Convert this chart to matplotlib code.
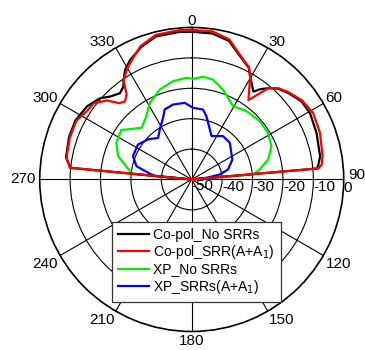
import numpy as np
import matplotlib.pyplot as plt

plt.rcParams['font.family'] = ['Liberation Sans', 'DejaVu Sans']

# angles in degrees (0 = broadside, negative = left side), gain in dB
ang_co_no = [-90, -84.5, -80, -71, -63, -55, -48.5, -44.6, -39.8, -36.4, -34.5, -31.3, -27.3,
             -21, -14, -5, 0, 8, 15, 24, 27, 29.6, 35.1, 37.1, 40, 43.5, 48, 54.5, 60.8,
             69.7, 79.9, 83.5, 85, 90]
co_no = [-50, -9.9, -8.0, -7.3, -7.1, -8.0, -9.7, -11.7, -13.1, -12.1, -10.4, -7.8, -5.8,
         -3.4, -1.5, -1.3, -1.4, -1.5, -2.8, -7.6, -8.7, -11.1, -14.7, -12.8, -10.8, -8.8, -7.4,
         -5.7, -5.4, -6.2, -7.1, -8.1, -8.6, -50]

ang_co_srr = [-90, -84.5, -80, -71, -63, -57, -52, -47, -43.5, -40.5, -37.5, -34.5, -30, -26.5,
              -21, -14, -5, 0, 8, 15, 24, 27, 29.6, 35.5, 40, 43.5, 48, 54.5, 61.4, 70, 80,
              83.6, 85, 90]
co_srr = [-50, -9.7, -8.2, -7.6, -7.4, -8.8, -9.2, -11.9, -15.4, -16.2, -14.8, -10.4, -7.7, -6.0,
          -3.0, -1.0, -0.7, -0.8, -0.8, -2.3, -7.4, -8.5, -11.1, -17.9, -10.8, -8.6, -7.1, -5.3,
          -4.5, -5.1, -6.3, -7.0, -8.2, -50]

ang_xp_no = [-90, -84.5, -83.7, -72.4, -64, -54.9, -44.2, -36.7, -28.7, -19.6, -10.8, -3, 0.8,
             6.3, 12, 19.2, 29.4, 38.7, 49.4, 58.5, 67.3, 75.3, 81.6, 85.3, 90]
xp_no = [-50, -30.2, -30.0, -24.6, -22.4, -21.7, -26.3, -24.7, -21.3, -18.6, -17.1, -16.5, -16.9,
         -16.0, -16.4, -18.7, -22.3, -21.2, -20.5, -20.6, -21.6, -24.0, -27.4, -29.8, -50]

ang_xp_srr = [-90, -84.5, -82.9, -76.5, -68.3, -56.9, -47.5, -39, -32.6, -24.9, -21.1, -14, -5.2,
              1, 9.2, 13, 24.5, 35.9, 46, 63.8, 74.6, 80, 83.5, 90]
xp_srr = [-50, -38.0, -36.6, -31.3, -29.2, -28.9, -30.5, -32.4, -30.5, -27.6, -25.3, -24.6, -24.7,
          -26.4, -26.7, -28.6, -34.3, -32.4, -32.6, -35.1, -37.6, -40.7, -45.1, -50]

theta_labels = ['0', '30', '60', '90', '120', '150', '180', '210', '240', '270', '300', '330']
r_ticks = [-50, -40, -30, -20, -10, 0]

fig = plt.figure(figsize=(3.65, 3.5), dpi=100)
ax = fig.add_axes([0.1088, 0.0529, 0.833, 0.8686], projection='polar')
ax.set_theta_zero_location('N')
ax.set_theta_direction(-1)

ax.plot(np.deg2rad(ang_xp_no), xp_no, color='#00ee00', lw=1.6, zorder=3, label='XP_No SRRs')
ax.plot(np.deg2rad(ang_xp_srr), xp_srr, color='#0000ff', lw=1.6, zorder=3, label='XP_SRRs(A+A$_1$)')
ax.plot(np.deg2rad(ang_co_no), co_no, color='black', lw=1.6, zorder=4, label='Co-pol_No SRRs')
ax.plot(np.deg2rad(ang_co_srr), co_srr, color='#ff0000', lw=1.6, zorder=5, label='Co-pol_SRR(A+A$_1$)')

ax.set_rlim(-50, 0)
ax.set_rticks(r_ticks[1:-1])
ax.set_yticklabels([])
ax.set_xticks(np.deg2rad(np.arange(0, 360, 30)))
ax.set_xticklabels([])
ax.set_xticks(np.deg2rad(np.arange(15, 360, 30)), minor=True)
ax.tick_params(axis='x', which='major', length=0)
ax.tick_params(axis='x', which='minor', length=4, width=0.8, direction='in', color='black')
ax.grid(True, color='black', lw=0.8)
ax.spines['polar'].set_linewidth(1.2)

# angle labels just outside the rim
aligns = [('center', 'baseline'), ('left', 'baseline'), ('left', 'baseline'), ('left', 'center'),
          ('left', 'top'), ('left', 'top'), ('center', 'top'), ('right', 'top'),
          ('right', 'top'), ('right', 'center'), ('right', 'baseline'), ('right', 'baseline')]
for i, lab in enumerate(theta_labels):
    ha, va = aligns[i]
    off = 1.5 if va == 'center' else 0.8
    a = 30 * i
    if a == 90:
        a = 88.3  # sits a little above the axis line, as in the original
    ax.text(np.deg2rad(a), off, lab, ha=ha, va=va, fontsize=11)

# radial labels along the 90 degree line
for r in r_ticks:
    ax.text(np.deg2rad(90.4), r, '-' + str(abs(r)) if r < 0 else '0', ha='left', va='top',
            fontsize=11, zorder=6)

h, l = ax.get_legend_handles_labels()
order = [2, 3, 0, 1]
leg = ax.legend([h[i] for i in order], [l[i] for i in order], loc='upper left',
                bbox_to_anchor=(112 / 365, 1 - 222 / 350), bbox_transform=fig.transFigure,
                borderaxespad=0, fontsize=10, handlelength=2.2, handletextpad=0.3,
                labelspacing=0.08, borderpad=0.45, fancybox=False, framealpha=1)
leg.get_frame().set_edgecolor('#333333')
leg.get_frame().set_linewidth(0.9)
leg.set_zorder(10)

fig.savefig('out.png', dpi=100)
